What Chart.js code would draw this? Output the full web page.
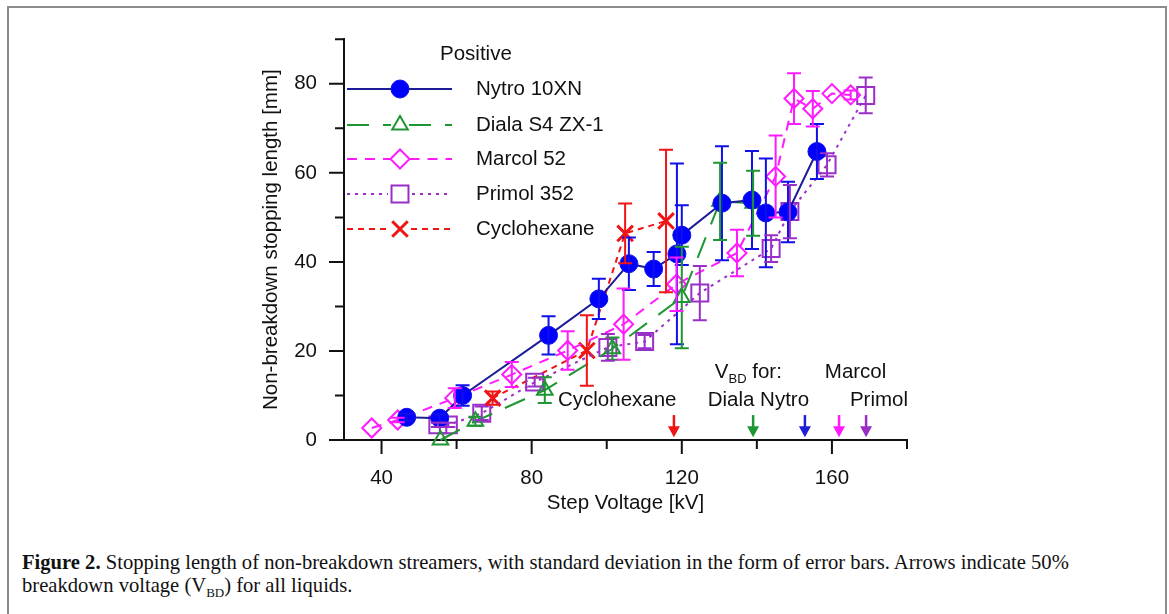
<!DOCTYPE html>
<html>
<head>
<meta charset="utf-8">
<script src="https://cdn.jsdelivr.net/npm/chart.js@4.4.1/dist/chart.umd.min.js"></script>
<style>
  body { margin: 0; background: #fff; width: 1169px; height: 614px; overflow: hidden; position: relative; }
  #frame { position: absolute; left: 7px; top: 6px; width: 1160px; height: 640px; border: 2px solid #8c8c8c; box-sizing: border-box; }
  #wrap { position: absolute; left: 0; top: 0; width: 1169px; height: 530px; }
  #caption { position: absolute; left: 22px; top: 551px; font-family: "Liberation Serif", serif; font-size: 20.6px; line-height: 23px; color: #111; white-space: nowrap; }
</style>
</head>
<body>
<div id="frame"></div>
<div id="wrap"><canvas id="chart" width="1169" height="530"></canvas></div>
<div id="caption"><b>Figure 2.</b> Stopping length of non-breakdown streamers, with standard deviation in the form of error bars. Arrows indicate 50%<br>breakdown voltage (V<sub style="font-size:13px">BD</sub>) for all liquids.</div>
<script>
// step voltage [kV], stopping length [mm], std dev [mm]
const nytroV   = [46.7, 55.5, 61.6, 84.5, 97.9, 105.9, 112.5, 118.7, 120, 130.7, 138.7, 142.4, 148.3, 156];
const nytroL   = [5.1, 4.9, 10, 23.5, 31.7, 39.6, 38.4, 41.8, 46, 53.2, 53.9, 51, 51.2, 64.8];
const nytroErr = [0.8, 0.8, 2.3, 4.3, 4.5, 5.9, 3.8, 20.3, 6.7, 12.8, 11, 12.2, 6.8, 6.2];

const dialaV   = [55.7, 65, 83.5, 101.5, 120, 130.2, 139];
const dialaL   = [0, 4.2, 11.2, 20.5, 32, 53.6, 53.2];
const dialaErr = [0, 1, 2.9, 2.5, 11.4, 8.7, 7.3];

const marcolV   = [37.4, 44.3, 59.5, 74.7, 89.6, 104.5, 118.6, 134.7, 145, 149.9, 154.9, 160, 165];
const marcolL   = [2.7, 4.5, 9.4, 14.7, 20.1, 26, 35, 42, 59.2, 76.7, 74.4, 77.8, 77.5];
const marcolErr = [0, 0.5, 2.2, 2.8, 4.3, 8, 6, 5.2, 9.2, 5.7, 4, 0, 1];

const primolV   = [55, 57.8, 66.7, 80.8, 100.3, 110.1, 124.8, 143.8, 148.8, 158.7, 169];
const primolL   = [3.4, 3.4, 6, 13, 20.8, 22.1, 33, 43, 51.3, 61.8, 77.4];
const primolErr = [0.5, 0.5, 1.5, 1, 3, 1.5, 6.1, 3, 6, 2.6, 4];

const cycloV   = [69.6, 94.7, 104.9, 115.8];
const cycloL   = [9.4, 20.1, 46.4, 49.2];
const cycloErr = [1.5, 7.9, 6.7, 16];

// 50% breakdown voltages (arrows)
const vbdValues = [117.9, 139, 152.8, 161.9, 169.1];
const vbdColors = ["#f01414", "#1e9632", "#1f1fd6", "#ff1aff", "#9a2fc8"];

const FONT = '"Liberation Sans", Arial, sans-serif';
const pts = (xs, ys) => xs.map((x, i) => ({ x, y: ys[i] }));

function series(label, xs, ys, errs, o) {
  return {
    label, data: pts(xs, ys), err: errs,
    borderColor: o.line, borderWidth: 2, borderDash: o.dash || [],
    pointStyle: o.style, pointRadius: o.r, pointHoverRadius: o.r,
    pointBorderColor: o.color, pointBackgroundColor: o.fill || "rgba(0,0,0,0)",
    pointBorderWidth: o.pw || 2, errColor: o.color,
    showLine: true, tension: 0, clip: false
  };
}

const datasets = [
  series("Nytro 10XN", nytroV, nytroL, nytroErr, { line: "#1c1c99", color: "#1010e8", fill: "#0000ff", style: "circle", r: 9, pw: 1 }),
  series("Diala S4 ZX-1", dialaV, dialaL, dialaErr, { line: "#1e9632", color: "#1e9632", style: "triangle", r: 9, dash: [22, 14] }),
  series("Marcol 52", marcolV, marcolL, marcolErr, { line: "#ff1aff", color: "#ff1aff", style: "rectRot", r: 9.5, dash: [10, 8] }),
  series("Primol 352", primolV, primolL, primolErr, { line: "#9a2fc8", color: "#9a2fc8", style: "rect", r: 12, dash: [3, 5] }),
  series("Cyclohexane", cycloV, cycloL, cycloErr, { line: "#f01414", color: "#f01414", style: "crossRot", r: 11, pw: 3, dash: [6, 5] })
];

// error bars
const errorBars = {
  id: "errorBars",
  afterDatasetsDraw(chart) {
    const { ctx, scales: { x, y } } = chart;
    ctx.save();
    ctx.lineWidth = 2;
    chart.data.datasets.forEach(ds => {
      ctx.strokeStyle = ds.errColor;
      ds.data.forEach((p, i) => {
        const e = ds.err[i];
        if (!e) return;
        const px = x.getPixelForValue(p.x);
        const t = y.getPixelForValue(p.y + e), b = y.getPixelForValue(p.y - e);
        ctx.beginPath();
        ctx.moveTo(px, t); ctx.lineTo(px, b);
        ctx.moveTo(px - 7, t); ctx.lineTo(px + 7, t);
        ctx.moveTo(px - 7, b); ctx.lineTo(px + 7, b);
        ctx.stroke();
      });
    });
    ctx.restore();
  }
};

// outward tick marks, longer on labelled ticks
const tickMarks = {
  id: "tickMarks",
  afterDraw(chart) {
    const { ctx, scales: { x, y }, chartArea: a } = chart;
    ctx.save();
    ctx.strokeStyle = "#111";
    ctx.lineWidth = 2;
    ctx.beginPath();
    x.ticks.forEach(t => {
      const px = x.getPixelForValue(t.value);
      ctx.moveTo(px, a.bottom); ctx.lineTo(px, a.bottom + (t.value % 40 === 0 ? 14 : 9));
    });
    y.ticks.forEach(t => {
      const py = y.getPixelForValue(t.value);
      ctx.moveTo(a.left, py); ctx.lineTo(a.left - (t.value % 20 === 0 ? 15 : 9), py);
    });
    ctx.stroke();
    ctx.restore();
  }
};

// V_BD arrows and labels
const vbdArrows = {
  id: "vbdArrows",
  afterDraw(chart) {
    const { ctx, scales: { x, y } } = chart;
    ctx.save();
    vbdValues.forEach((v, i) => {
      const px = x.getPixelForValue(v);
      const top = y.getPixelForValue(5.6), tip = y.getPixelForValue(0.6);
      ctx.strokeStyle = ctx.fillStyle = vbdColors[i];
      ctx.lineWidth = 2.5;
      ctx.beginPath(); ctx.moveTo(px, top); ctx.lineTo(px, tip - 8); ctx.stroke();
      ctx.beginPath(); ctx.moveTo(px - 6, tip - 11); ctx.lineTo(px + 6, tip - 11); ctx.lineTo(px, tip); ctx.closePath(); ctx.fill();
    });
    ctx.fillStyle = "#111";
    ctx.font = "20.5px " + FONT;
    ctx.textBaseline = "middle";
    ctx.textAlign = "center";
    ctx.fillText("Cyclohexane", x.getPixelForValue(102.8), y.getPixelForValue(8.9));
    ctx.textAlign = "left";
    ctx.fillText("Diala Nytro", x.getPixelForValue(126.9), y.getPixelForValue(8.9));
    ctx.fillText("Primol", x.getPixelForValue(164.8), y.getPixelForValue(8.9));
    ctx.fillText("Marcol", x.getPixelForValue(158.1), y.getPixelForValue(15.2));
    let vx = x.getPixelForValue(128.8), vy = y.getPixelForValue(15.2);
    ctx.fillText("V", vx, vy);
    vx += ctx.measureText("V").width;
    ctx.font = "13px " + FONT;
    ctx.fillText("BD", vx, vy + 7);
    vx += ctx.measureText("BD").width;
    ctx.font = "20.5px " + FONT;
    ctx.fillText(" for:", vx, vy);
    ctx.restore();
  }
};

// legend inside the plot area
const legendBox = {
  id: "legendBox",
  afterDraw(chart) {
    const { ctx, chartArea: a } = chart;
    const rows = [89, 125, 159, 194, 229];
    const x0 = a.left + 3, x1 = a.left + 108, mx = a.left + 56, tx = a.left + 132;
    ctx.save();
    ctx.font = "20.5px " + FONT;
    ctx.fillStyle = "#111";
    ctx.textBaseline = "middle";
    ctx.fillText("Positive", a.left + 96, 54);
    chart.data.datasets.forEach((ds, i) => {
      const ry = rows[i];
      ctx.strokeStyle = ds.borderColor;
      ctx.lineWidth = 2;
      ctx.setLineDash(ds.borderDash);
      ctx.beginPath(); ctx.moveTo(x0, ry); ctx.lineTo(mx - ds.pointRadius, ry); ctx.stroke();
      ctx.beginPath(); ctx.moveTo(mx + ds.pointRadius, ry); ctx.lineTo(x1, ry); ctx.stroke();
      ctx.setLineDash([]);
      ctx.strokeStyle = ds.pointBorderColor;
      ctx.fillStyle = ds.pointBackgroundColor;
      ctx.lineWidth = ds.pointBorderWidth;
      Chart.helpers.drawPoint(ctx, { pointStyle: ds.pointStyle, radius: ds.pointRadius, rotation: 0, borderWidth: ds.pointBorderWidth }, mx, ry);
      ctx.fillStyle = "#111";
      ctx.fillText(ds.label, tx, ry);
    });
    ctx.restore();
  }
};

new Chart(document.getElementById("chart"), {
  type: "scatter",
  data: { datasets },
  options: {
    responsive: false,
    animation: false,
    events: [],
    layout: { padding: { left: 255, right: 262, top: 36, bottom: 10 } },
    plugins: { legend: { display: false }, tooltip: { enabled: false } },
    scales: {
      x: {
        type: "linear", min: 30, max: 180,
        afterFit(s) { s.height = 80; },
        border: { display: true, color: "#111", width: 2 },
        grid: { display: true, drawOnChartArea: false, drawTicks: false },
        ticks: {
          stepSize: 20, includeBounds: false, autoSkip: false, maxRotation: 0, padding: 26,
          color: "#111", font: { family: FONT, size: 20.5 },
          callback: v => (v % 40 === 0 ? v : "")
        },
        title: { display: true, text: "Step Voltage [kV]", color: "#111", font: { family: FONT, size: 20.5 } }
      },
      y: {
        type: "linear", min: 0, max: 90,
        afterFit(s) { s.width = 89; },
        border: { display: true, color: "#111", width: 2 },
        grid: { display: true, drawOnChartArea: false, drawTicks: false },
        ticks: {
          stepSize: 10, autoSkip: false, padding: 27,
          color: "#111", font: { family: FONT, size: 20.5 },
          callback: v => (v % 20 === 0 ? v : "")
        },
        title: { display: true, text: "Non-breakdown stopping length [mm]", color: "#111", font: { family: FONT, size: 20.5 } }
      }
    }
  },
  plugins: [errorBars, tickMarks, vbdArrows, legendBox]
});
</script>
</body>
</html>
